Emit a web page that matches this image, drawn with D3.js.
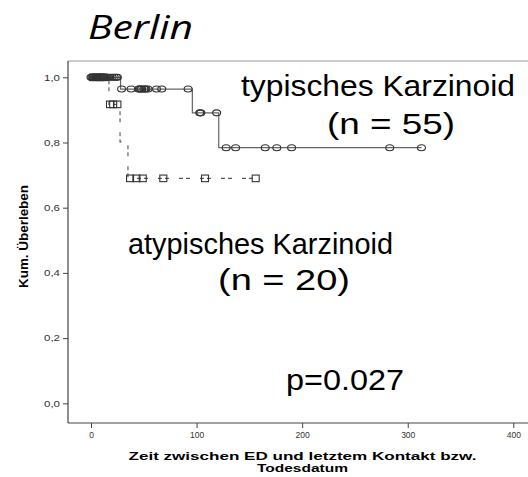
<!DOCTYPE html>
<html>
<head>
<meta charset="utf-8">
<script src="https://cdn.jsdelivr.net/npm/d3@7"></script>
<style>
  body { margin: 0; background: #fff; }
  svg { display: block; }
</style>
</head>
<body>
<div id="chart"></div>
<script>
// Kaplan-Meier data (days, cumulative survival)
const typStepTimes = [0, 28, 96, 121];
const typStepSurv = [1, 0.964, 0.891, 0.784];
const typEnd = 313;
const typCensored = [0, 1, 2, 3, 4, 5, 6, 7, 8, 9, 10, 11, 12, 13, 14, 16, 18, 20, 22, 24, 25,
  29, 38, 45, 46, 47, 48, 50, 51, 52, 54, 62, 67, 92,
  103, 104, 119,
  128, 137, 165, 176, 190, 283, 313];

const atyStepTimes = [0, 17, 27.5, 35];
const atyStepSurv = [1, 0.917, 0.802, 0.69];
const atyEnd = 156;
const atyCensored = [2, 5, 9, 12, 18, 21, 25, 37, 43, 49, 68.5, 108, 156];

const xTicks = [0, 100, 200, 300, 400];
const yTicks = [0, 0.2, 0.4, 0.6, 0.8, 1.0];

const W = 528, H = 477;
const frame = { left: 68, top: 61, bottom: 423, right: 528 };

const svg = d3.select("#chart").append("svg")
  .attr("width", W)
  .attr("height", H);

// scales
const x = d3.scaleLinear().domain([0, 400]).range([91, 513.3]);
const y = d3.scaleLinear().domain([0, 1]).range([403.3, 77.3]);

// frame lines
svg.append("line")
  .attr("x1", frame.left).attr("x2", frame.right)
  .attr("y1", frame.top).attr("y2", frame.top)
  .attr("stroke", "#9a9a9a").attr("stroke-width", 1);
svg.append("line")
  .attr("x1", frame.left).attr("x2", frame.left)
  .attr("y1", frame.top).attr("y2", frame.bottom)
  .attr("stroke", "#444").attr("stroke-width", 1.2);
svg.append("line")
  .attr("x1", frame.left).attr("x2", frame.right)
  .attr("y1", frame.bottom).attr("y2", frame.bottom)
  .attr("stroke", "#444").attr("stroke-width", 1.2);

// y axis
const yAxis = svg.append("g")
  .attr("transform", `translate(${frame.left},0)`)
  .call(d3.axisLeft(y).tickValues(yTicks).tickSize(5).tickPadding(3)
    .tickFormat(d => d3.format(".1f")(d).replace(".", ",")));
yAxis.select(".domain").remove();
yAxis.selectAll("line").attr("stroke", "#444");
yAxis.selectAll("text")
  .attr("fill", "#333")
  .style("font-family", "'Liberation Sans', Arial, sans-serif")
  .style("font-size", "8.5px")
  .attr("textLength", 16)
  .attr("lengthAdjust", "spacingAndGlyphs");

// x axis
const xAxis = svg.append("g")
  .attr("transform", `translate(0,${frame.bottom})`)
  .call(d3.axisBottom(x).tickValues(xTicks).tickSize(5).tickPadding(4));
xAxis.select(".domain").remove();
xAxis.selectAll("line").attr("stroke", "#444");
xAxis.selectAll("text")
  .attr("fill", "#333")
  .style("font-family", "'Liberation Sans', Arial, sans-serif")
  .style("font-size", "8.5px");

// step lines
function stepPoints(times, surv, end) {
  const pts = times.map((t, i) => [t, surv[i]]);
  pts.push([end, surv[surv.length - 1]]);
  return pts;
}
function survAt(times, surv, t) {
  let s = surv[0];
  times.forEach((tt, i) => { if (t >= tt) s = surv[i]; });
  return s;
}

const line = d3.line()
  .x(d => x(d[0]))
  .y(d => y(d[1]))
  .curve(d3.curveStepAfter);

svg.append("path")
  .datum(stepPoints(typStepTimes, typStepSurv, typEnd))
  .attr("d", line)
  .attr("fill", "none")
  .attr("stroke", "#666")
  .attr("stroke-width", 1.2);

svg.append("path")
  .datum(stepPoints(atyStepTimes, atyStepSurv, atyEnd))
  .attr("d", line)
  .attr("fill", "none")
  .attr("stroke", "#555")
  .attr("stroke-width", 1.1)
  .attr("stroke-dasharray", "4,3,4,10");

// censor marks
svg.selectAll(".cens-aty")
  .data(atyCensored)
  .enter()
  .append("rect")
  .attr("class", "cens-aty")
  .attr("x", d => x(d) - 3.5)
  .attr("y", d => y(survAt(atyStepTimes, atyStepSurv, d)) - 3.3)
  .attr("width", 7)
  .attr("height", 6.6)
  .attr("fill", "none")
  .attr("stroke", "#333")
  .attr("stroke-width", 1.1);

svg.selectAll(".cens-typ")
  .data(typCensored)
  .enter()
  .append("ellipse")
  .attr("class", "cens-typ")
  .attr("cx", d => x(d))
  .attr("cy", d => y(survAt(typStepTimes, typStepSurv, d)))
  .attr("rx", 4)
  .attr("ry", 3)
  .attr("fill", "none")
  .attr("stroke", "#333")
  .attr("stroke-width", 1.1);

// axis titles
svg.append("text")
  .attr("transform", "translate(28,236.5) rotate(-90)")
  .attr("text-anchor", "middle")
  .attr("textLength", 103)
  .attr("lengthAdjust", "spacingAndGlyphs")
  .style("font-family", "'Liberation Sans', Arial, sans-serif")
  .style("font-size", "13px")
  .style("font-weight", "bold")
  .text("Kum. Überleben");

svg.append("text")
  .attr("x", 302.5).attr("y", 460)
  .attr("text-anchor", "middle")
  .attr("textLength", 348)
  .attr("lengthAdjust", "spacingAndGlyphs")
  .style("font-family", "'Liberation Sans', Arial, sans-serif")
  .style("font-size", "11.5px")
  .style("font-weight", "bold")
  .text("Zeit zwischen ED und letztem Kontakt bzw.");

svg.append("text")
  .attr("x", 302.5).attr("y", 472)
  .attr("text-anchor", "middle")
  .attr("textLength", 91)
  .attr("lengthAdjust", "spacingAndGlyphs")
  .style("font-family", "'Liberation Sans', Arial, sans-serif")
  .style("font-size", "11.5px")
  .style("font-weight", "bold")
  .text("Todesdatum");

// title
svg.append("text")
  .attr("x", 88).attr("y", 39)
  .attr("textLength", 105)
  .attr("lengthAdjust", "spacingAndGlyphs")
  .style("font-family", "'Open Sans', sans-serif")
  .style("font-style", "italic")
  .style("font-size", "33px")
  .text("Berlin");

// annotations
const notes = [
  { text: "typisches Karzinoid", x: 241, y: 96, w: 274 },
  { text: "(n = 55)", x: 327, y: 134, w: 128 },
  { text: "atypisches Karzinoid", x: 128, y: 254, w: 265 },
  { text: "(n = 20)", x: 218, y: 290, w: 132 },
  { text: "p=0.027", x: 286, y: 390, w: 118 }
];
svg.selectAll(".note")
  .data(notes)
  .enter()
  .append("text")
  .attr("class", "note")
  .attr("x", d => d.x)
  .attr("y", d => d.y)
  .attr("textLength", d => d.w)
  .attr("lengthAdjust", "spacingAndGlyphs")
  .style("font-family", "'Liberation Sans', Arial, sans-serif")
  .style("font-size", "29px")
  .text(d => d.text);
</script>
</body>
</html>
